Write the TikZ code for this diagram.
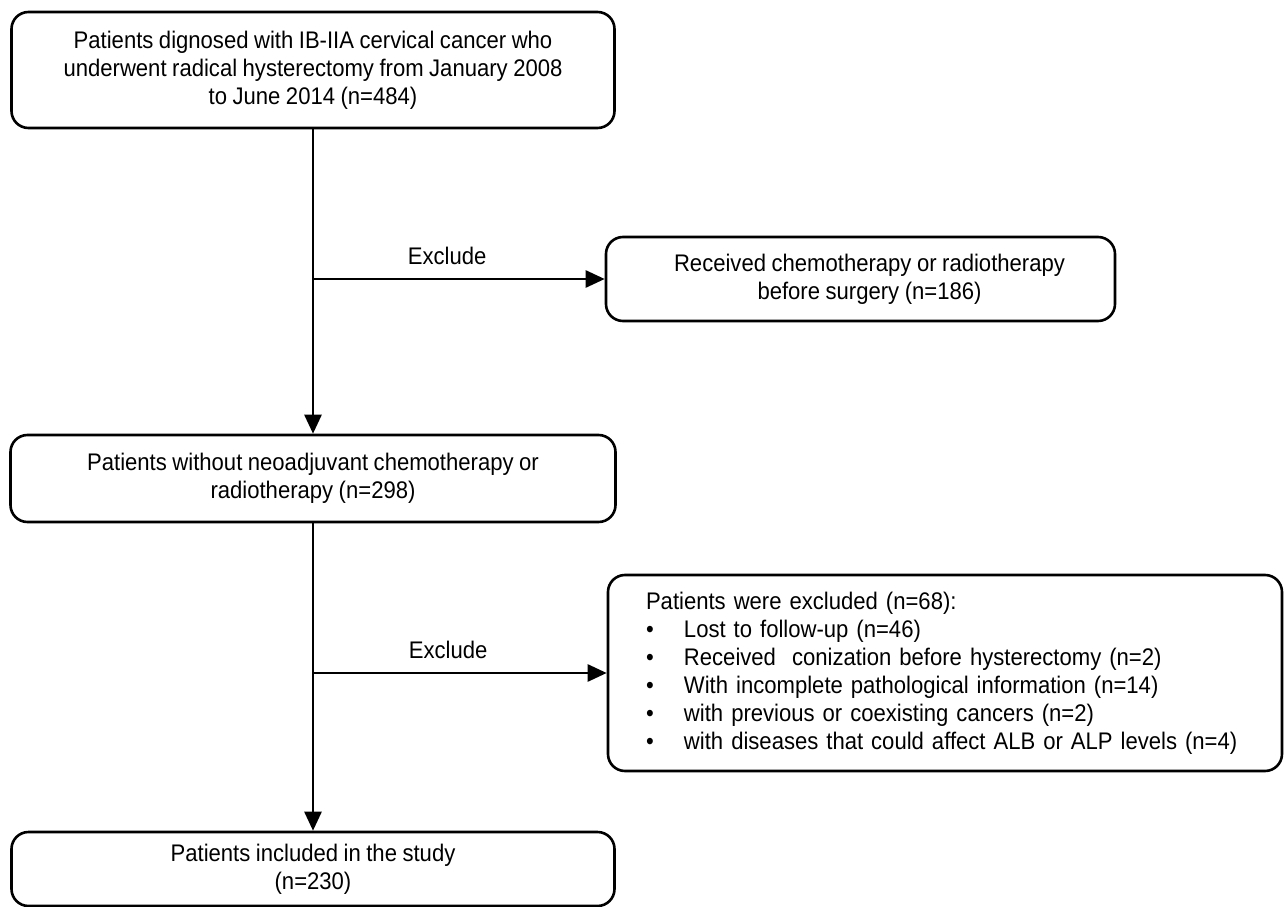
\documentclass[tikz,border=0pt]{standalone}
\usepackage{fontspec}
\setmainfont[FakeStretch=0.92,WordSpace=0.9]{Liberation Sans}
\usetikzlibrary{arrows.meta}

% bullet entry of the exclusion list
\newcommand{\exitem}{\makebox[49pt][l]{\hspace*{11pt}\textbullet}}

\tikzset{
  box/.style={draw, line width=2.6pt, rounded corners=17pt, align=center,
    font=\fontsize{24}{28}\selectfont, inner sep=0pt},
  listbox/.style={box, align=left, inner xsep=27pt, text width=620pt},
  arrow/.style={line width=2.6pt, -{Triangle[length=19pt,width=17pt]}},
  lbl/.style={font=\fontsize{24}{28}\selectfont, inner sep=3pt}
}

\begin{document}
\begin{tikzpicture}[x=1pt,y=-1pt,line join=round]
  % Keep the page at the size of the original figure.
  \useasboundingbox (0,0) rectangle (1286,907);

  % Main column of the flow.
  \node[box, minimum width=603pt, minimum height=116pt] (all) at (313,70)
    {Patients dignosed with IB-IIA cervical cancer who\\
     underwent radical hysterectomy from January 2008\\
     to June 2014 (n=484)};
  \node[box, minimum width=605pt, minimum height=87pt] (noneo) at (313,478.5)
    {Patients without neoadjuvant chemotherapy or\\
     radiotherapy (n=298)};
  \node[box, minimum width=603pt, minimum height=74pt] (incl) at (313,869)
    {Patients included in the study\\
     (n=230)};

  % Exclusion boxes on the right.
  \node[box, minimum width=509pt, minimum height=84pt] (chemo) at (860.5,279)
    {\hspace*{18pt}Received chemotherapy or radiotherapy\\
     \hspace*{18pt}before surgery (n=186)};
  \node[listbox, minimum height=196pt] (excl) at (945,673)
    {\hspace*{11pt}Patients were excluded (n=68):\\
     \exitem Lost to follow-up (n=46)\\
     \exitem Received\ \ conization before hysterectomy (n=2)\\
     \exitem With incomplete pathological information (n=14)\\
     \exitem with previous or coexisting cancers (n=2)\\
     \exitem with diseases that could affect ALB or ALP levels (n=4)};

  % Connectors.
  \draw[arrow] (all) -- (noneo);
  \draw[arrow] (noneo) -- (incl);
  \draw[arrow] (all.south |- chemo.west) -- (chemo.west)
    node[lbl, pos=0.46, above=10pt] {Exclude};
  \draw[arrow] (noneo.south |- excl.west) -- (excl.west)
    node[lbl, pos=0.46, above=10pt] {Exclude};
\end{tikzpicture}
\end{document}
